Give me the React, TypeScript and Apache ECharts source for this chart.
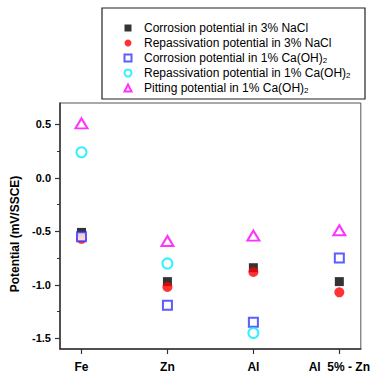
import React, { useEffect, useRef } from "react";
import * as echarts from "echarts";

const categories = ["Fe", "Zn", "Al", "Al  5% - Zn"];
const seriesNames = [
  "Corrosion potential in 3% NaCl",
  "Repassivation potential in 3% NaCl",
  "Corrosion potential in 1% Ca(OH)2",
  "Repassivation potential in 1% Ca(OH)2",
  "Pitting potential in 1% Ca(OH)2",
];
const corrNaCl = [-0.51, -0.97, -0.84, -0.97];
const repassNaCl = [-0.57, -1.02, -0.88, -1.07];
const corrCaOH = [-0.55, -1.19, -1.35, -0.75];
const repassCaOH = [0.24, -0.8, -1.45, null];
const pittingCaOH = [0.51, -0.59, -0.54, -0.49];
const yTicks = [-1.5, -1.0, -0.5, 0.0, 0.5];
const yMinorTicks = [-1.25, -0.75, -0.25, 0.25];

const FONT = "'Liberation Sans', Arial, sans-serif";

function toPoints(vals: (number | null)[]) {
  return vals
    .map((v, i) => (v === null ? null : [i + 1, v]))
    .filter((p) => p !== null);
}

export default function App() {
  const ref = useRef<HTMLDivElement>(null);
  useEffect(() => {
    document.body.style.margin = "0";
    const chart = echarts.init(ref.current!, undefined, { renderer: "svg" });
    const styles = [
      { symbol: "rect", size: 9, itemStyle: { color: "#000000" } },
      { symbol: "circle", size: 10, itemStyle: { color: "#ff0000" } },
      {
        symbol: "emptyRect",
        size: 9,
        itemStyle: { color: "#3333ff", borderColor: "#3333ff", borderWidth: 1.3 },
      },
      {
        symbol: "emptyCircle",
        size: 10,
        itemStyle: { color: "#00eeff", borderColor: "#00eeff", borderWidth: 1.3 },
      },
      {
        symbol: "emptyTriangle",
        size: [12, 10],
        itemStyle: { color: "#ff00ff", borderColor: "#ff00ff", borderWidth: 1.3 },
      },
    ];
    const values = [corrNaCl, repassNaCl, corrCaOH, repassCaOH, pittingCaOH];
    const series = values.map((vals, i) => ({
      name: seriesNames[i],
      type: "scatter",
      symbol: styles[i].symbol,
      symbolSize: styles[i].size,
      itemStyle: styles[i].itemStyle,
      data: toPoints(vals),
      z: 3 + i,
    }));
    chart.setOption({
      animation: false,
      backgroundColor: "#ffffff",
      grid: {
        left: 60,
        right: 7,
        top: 103,
        bottom: 27,
        show: true,
        borderColor: "#555",
        borderWidth: 1,
        containLabel: false,
      },
      graphic: [
        {
          type: "rect",
          shape: { x: 102, y: 8, width: 263, height: 91 },
          style: { fill: "#ffffff", stroke: "#222", lineWidth: 1.2 },
          z: 0,
        },
      ],
      legend: {
        orient: "vertical",
        left: 118.5,
        top: 16.5,
        itemWidth: 7,
        itemHeight: 7,
        itemGap: 2,
        z: 10,
        data: seriesNames.map((n, i) => ({
          name: n,
          icon: styles[i].symbol,
          itemStyle: styles[i].itemStyle,
        })),
        formatter: (name: string) => name.replace(/\(OH\)2/, "(OH){sub|2}"),
        textStyle: {
          fontFamily: FONT,
          fontSize: 12,
          color: "#000",
          lineHeight: 13,
          padding: [0, 0, 0, 7.5],
          rich: {
            sub: {
              fontSize: 8,
              fontFamily: FONT,
              color: "#000",
              lineHeight: 8,
              verticalAlign: "bottom",
            },
          },
        },
      },
      xAxis: {
        type: "value",
        min: 0.75,
        max: 4.25,
        axisLine: { show: true, onZero: false, lineStyle: { color: "#333", width: 1.5 } },
        axisTick: {
          show: true,
          inside: false,
          length: 5,
          customValues: [1, 2, 3, 4],
          lineStyle: { color: "#333", width: 1.2 },
        },
        axisLabel: {
          customValues: [1, 2, 3, 4],
          formatter: (v: number) => categories[Math.round(v) - 1] ?? "",
          fontFamily: FONT,
          fontSize: 12,
          fontWeight: "bold",
          color: "#000",
          margin: 12,
        },
        splitLine: { show: false },
      },
      yAxis: [
        {
          type: "value",
          min: -1.6,
          max: 0.7,
          name: "Potential (mV/SSCE)",
          nameLocation: "middle",
          nameGap: 37,
          nameTextStyle: {
            fontFamily: FONT,
            fontSize: 12,
            fontWeight: "bold",
            color: "#000",
            padding: [0, 16, 0, 0],
          },
          axisLine: { show: true, onZero: false, lineStyle: { color: "#333", width: 1.5 } },
          axisTick: {
            show: true,
            length: 5,
            customValues: yTicks,
            lineStyle: { color: "#333", width: 1.2 },
          },
          axisLabel: {
            customValues: yTicks,
            formatter: (v: number) => v.toFixed(1),
            fontFamily: FONT,
            fontSize: 11,
            fontWeight: "bold",
            color: "#000",
            margin: 9,
          },
          splitLine: { show: false },
        },
        {
          type: "value",
          min: -1.6,
          max: 0.7,
          position: "left",
          axisLine: { show: false, onZero: false },
          axisTick: {
            show: true,
            length: 3,
            customValues: yMinorTicks,
            lineStyle: { color: "#333", width: 1 },
          },
          axisLabel: { show: false },
          splitLine: { show: false },
        },
      ],
      series,
    });
    return () => chart.dispose();
  }, []);
  return <div ref={ref} style={{ width: 373, height: 376 }} />;
}
